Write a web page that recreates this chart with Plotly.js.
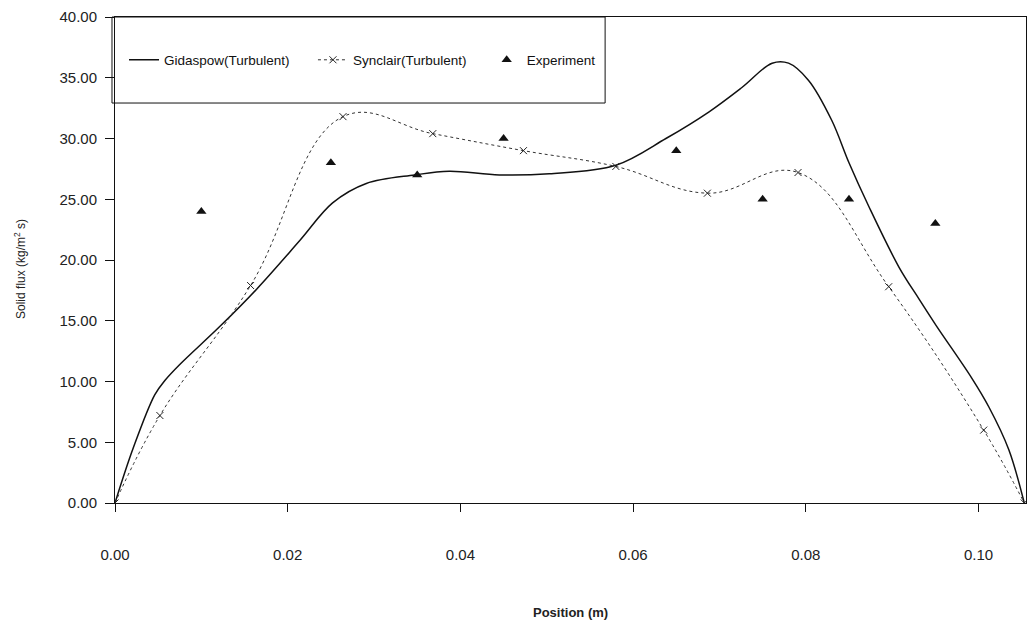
<!DOCTYPE html>
<html>
<head>
<meta charset="utf-8">
<script src="https://cdn.plot.ly/plotly-3.0.1.min.js"></script>
<style>html,body{margin:0;padding:0;background:#fff;}#chart{width:1027px;height:622px;}</style>
</head>
<body>
<div id="chart"></div>
<script>
// Gidaspow(Turbulent) - solid smoothed line
const gidaX = [0, 0.0021, 0.0046, 0.0058, 0.0075, 0.0121, 0.0164, 0.0214, 0.0252, 0.0291, 0.0347, 0.0387, 0.0445, 0.0503, 0.0580, 0.0638, 0.0688, 0.0726, 0.0761, 0.0780, 0.0803, 0.0830, 0.0850, 0.0873, 0.0908, 0.0931, 0.0951, 0.0992, 0.1012, 0.1035, 0.1053];
const gidaY = [0, 4.5, 8.9, 10.1, 11.4, 14.5, 17.6, 21.6, 24.7, 26.3, 27.0, 27.3, 27.0, 27.1, 27.8, 30.0, 32.2, 34.2, 36.2, 36.2, 34.8, 31.5, 28.0, 24.4, 19.4, 16.8, 14.6, 10.3, 7.9, 4.4, 0];

// Synclair(Turbulent) - dotted smoothed line with x markers
const syncX = [0, 0.0052, 0.0157, 0.0264, 0.0368, 0.0473, 0.0580, 0.0686, 0.0791, 0.0896, 0.1006, 0.1053];
const syncY = [0, 7.2, 17.9, 31.8, 30.4, 29.0, 27.7, 25.5, 27.2, 17.8, 6.0, 0];

// Experiment - triangles
const expX = [0.010, 0.025, 0.035, 0.045, 0.065, 0.075, 0.085, 0.095];
const expY = [24, 28, 27, 30, 29, 25, 25, 23];

const xTicks = [0, 0.02, 0.04, 0.06, 0.08, 0.10];
const yTicks = [0, 5, 10, 15, 20, 25, 30, 35, 40];

const traces = [
  {x: gidaX, y: gidaY, mode: 'lines', name: 'Gidaspow(Turbulent)', legend: 'legend',
   line: {color: '#111', width: 1.5, shape: 'spline', smoothing: 1}},
  {x: syncX, y: syncY, mode: 'lines+markers', name: 'Synclair(Turbulent)', legend: 'legend2',
   line: {color: '#333', width: 1, dash: 'dot', shape: 'spline', smoothing: 1.15},
   marker: {symbol: 'x-thin', size: 7, line: {width: 1, color: '#222'}, color: '#222'}},
  {x: expX, y: expY, mode: 'markers', name: 'Experiment', legend: 'legend3',
   marker: {symbol: 'triangle-up', size: 9, color: '#111'}}
];

const legFont = {family: 'Liberation Sans, Arial, sans-serif', size: 13.5, color: '#111'};
const legBase = {orientation: 'h', xanchor: 'left', yanchor: 'middle', y: 0.9115,
  bgcolor: 'rgba(0,0,0,0)', borderwidth: 0, font: legFont};

const layout = {
  width: 1027, height: 622,
  margin: {l: 115, r: 1, t: 17, b: 119, pad: 0},
  paper_bgcolor: '#fff', plot_bgcolor: '#fff',
  font: {family: 'Liberation Sans, Arial, sans-serif', color: '#111'},
  showlegend: true,
  legend: Object.assign({}, legBase, {x: 0.0099}),
  legend2: Object.assign({}, legBase, {x: 0.2173}),
  legend3: Object.assign({}, legBase, {x: 0.408}),
  xaxis: {
    range: [0, 0.1055], tickvals: xTicks, tickformat: '.2f',
    showgrid: false, zeroline: false, showline: true, linecolor: '#111', linewidth: 1, mirror: true,
    ticks: 'outside', ticklen: 8, tickcolor: '#111', ticklabelstandoff: 30,
    tickfont: {size: 15, color: '#222'}
  },
  yaxis: {
    range: [0, 40], tickvals: yTicks, tickformat: '.2f',
    showgrid: false, zeroline: false, showline: true, linecolor: '#111', linewidth: 1, mirror: true,
    ticks: 'outside', ticklen: 9, tickcolor: '#111', ticklabelstandoff: 5,
    tickfont: {size: 15, color: '#222'}
  },
  shapes: [
    {type: 'rect', xref: 'paper', yref: 'paper', x0: -0.0033, x1: 0.538, y0: 0.823, y1: 1.0,
     line: {color: '#111', width: 1}, fillcolor: '#fff', layer: 'below'}
  ],
  annotations: [
    {text: 'Solid flux (kg/m<sup>2</sup> s)', xref: 'paper', yref: 'paper', x: -0.1043, y: 0.4815,
     xanchor: 'center', yanchor: 'middle', textangle: -90, showarrow: false,
     font: {size: 12, color: '#222'}},
    {text: '<b>Position (m)</b>', xref: 'paper', yref: 'paper', x: 0.5, y: -0.2243,
     xanchor: 'center', yanchor: 'middle', showarrow: false,
     font: {size: 13, color: '#222'}}
  ]
};

Plotly.newPlot('chart', traces, layout, {displayModeBar: false, staticPlot: true});
</script>
</body>
</html>
